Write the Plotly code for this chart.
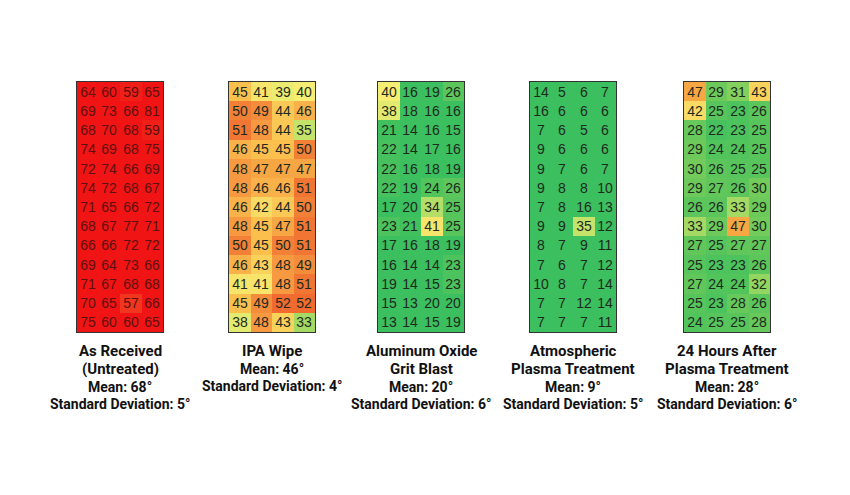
import plotly.graph_objects as go

# contact angle readings, 13 rows x 4 columns per surface treatment
as_received = [
    [64, 60, 59, 65], [69, 73, 66, 81], [68, 70, 68, 59], [74, 69, 68, 75],
    [72, 74, 66, 69], [74, 72, 68, 67], [71, 65, 66, 72], [68, 67, 77, 71],
    [66, 66, 72, 72], [69, 64, 73, 66], [71, 67, 68, 68], [70, 65, 57, 66],
    [75, 60, 60, 65],
]
ipa_wipe = [
    [45, 41, 39, 40], [50, 49, 44, 46], [51, 48, 44, 35], [46, 45, 45, 50],
    [48, 47, 47, 47], [48, 46, 46, 51], [46, 42, 44, 50], [48, 45, 47, 51],
    [50, 45, 50, 51], [46, 43, 48, 49], [41, 41, 48, 51], [45, 49, 52, 52],
    [38, 48, 43, 33],
]
grit_blast = [
    [40, 16, 19, 26], [38, 18, 16, 16], [21, 14, 16, 15], [22, 14, 17, 16],
    [22, 16, 18, 19], [22, 19, 24, 26], [17, 20, 34, 25], [23, 21, 41, 25],
    [17, 16, 18, 19], [16, 14, 14, 23], [19, 14, 15, 23], [15, 13, 20, 20],
    [13, 14, 15, 19],
]
plasma = [
    [14, 5, 6, 7], [16, 6, 6, 6], [7, 6, 5, 6], [9, 6, 6, 6],
    [9, 7, 6, 7], [9, 8, 8, 10], [7, 8, 16, 13], [9, 9, 35, 12],
    [8, 7, 9, 11], [7, 6, 7, 12], [10, 8, 7, 14], [7, 7, 12, 14],
    [7, 7, 7, 11],
]
after_24h = [
    [47, 29, 31, 43], [42, 25, 23, 26], [28, 22, 23, 25], [29, 24, 24, 25],
    [30, 26, 25, 25], [29, 27, 26, 30], [26, 26, 33, 29], [33, 29, 47, 30],
    [27, 25, 27, 27], [25, 23, 23, 26], [27, 24, 24, 32], [25, 23, 28, 26],
    [24, 25, 25, 28],
]

panels = [as_received, ipa_wipe, grit_blast, plasma, after_24h]
titles = [
    ["As Received", "(Untreated)"],
    ["IPA Wipe"],
    ["Aluminum Oxide", "Grit Blast"],
    ["Atmospheric", "Plasma Treatment"],
    ["24 Hours After", "Plasma Treatment"],
]
means = [68, 46, 20, 9, 28]
std_devs = [5, 4, 6, 5, 6]

# green -> yellow -> orange -> red, like the spreadsheet conditional format
colorscale = [
    [0.0, "#3cbf5e"],
    [0.25, "#3cbf5e"],
    [0.375, "#72cb5a"],
    [0.44, "#c8e46c"],
    [0.5, "#f6ee72"],
    [0.5625, "#fbbf4e"],
    [0.625, "#f28036"],
    [0.69, "#f04a26"],
    [0.75, "#f01414"],
    [1.0, "#f01414"],
]

W, H = 850, 495
OFF = 8  # page body margin in the browser
left_edges = [77, 229, 378, 530, 684]
panel_w = 86
top, bottom = 82, 332

fig = go.Figure()

for i, z in enumerate(panels):
    n = i + 1
    txt_color = "#5e1010" if i == 0 else "#1e2a1e"
    fig.add_trace(
        go.Heatmap(
            z=z,
            x=[0, 1, 2, 3],
            y=list(range(len(z))),
            zmin=0,
            zmax=80,
            colorscale=colorscale,
            showscale=False,
            texttemplate="%{z}",
            textfont=dict(size=14, color=txt_color, family="Liberation Sans"),
            xaxis="x" if n == 1 else f"x{n}",
            yaxis="y" if n == 1 else f"y{n}",
            hoverinfo="z",
        )
    )
    x0 = (left_edges[i] - OFF) / W
    x1 = (left_edges[i] + panel_w - OFF) / W
    axis_style = dict(
        showticklabels=False, ticks="", showgrid=False, zeroline=False,
        showline=True, mirror=True, linecolor="#333333", linewidth=1,
    )
    fig.update_layout({
        ("xaxis" if n == 1 else f"xaxis{n}"): dict(
            domain=[x0, x1], anchor="y" if n == 1 else f"y{n}", **axis_style
        ),
        ("yaxis" if n == 1 else f"yaxis{n}"): dict(
            domain=[1 - (bottom - OFF) / H, 1 - (top - OFF) / H],
            autorange="reversed",
            anchor="x" if n == 1 else f"x{n}", **axis_style
        ),
    })

    # labels under each panel
    cx = (left_edges[i] + panel_w / 2 - OFF) / W
    lines = [(t, 15) for t in titles[i]]
    lines += [(f"Mean: {means[i]}°", 14), (f"Standard Deviation: {std_devs[i]}°", 14)]
    y_px = 351
    for text, size in lines:
        fig.add_annotation(
            x=cx, y=1 - (y_px - OFF) / H, xref="paper", yref="paper",
            text=f"<b>{text}</b>", showarrow=False,
            font=dict(size=size, color="#111111", family="Roboto"),
            xanchor="center", yanchor="middle",
        )
        y_px += 18 if size == 15 else 17

fig.update_layout(
    width=W,
    height=H,
    margin=dict(l=0, r=0, t=0, b=0),
    paper_bgcolor="white",
    plot_bgcolor="white",
)

fig.write_html("out.html")
